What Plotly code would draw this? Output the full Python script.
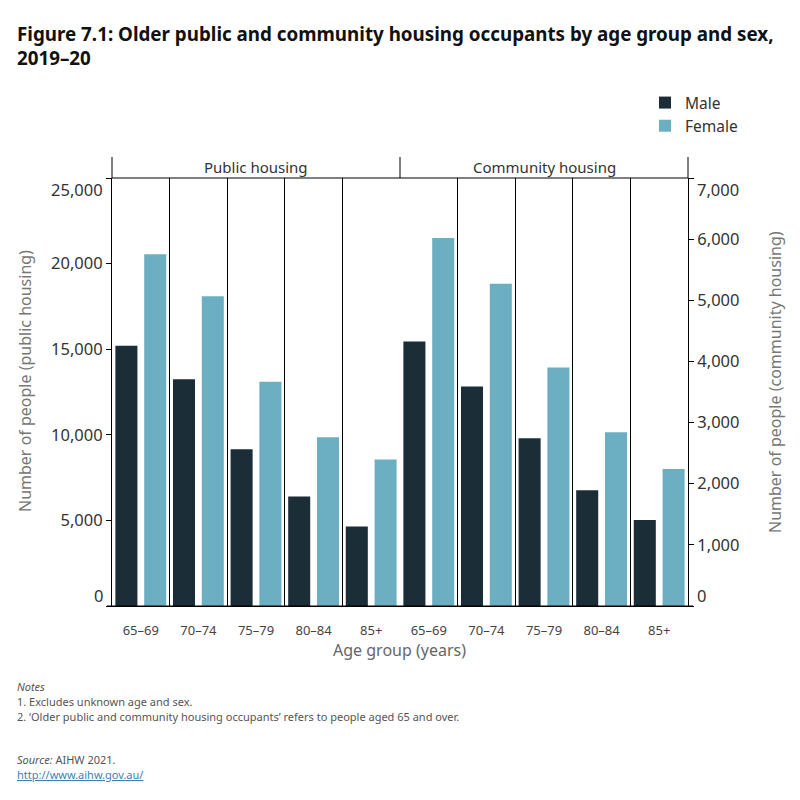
import plotly.graph_objects as go

# ---- data ----
age_groups = ["65–69", "70–74", "75–79", "80–84", "85+"]
public_male = [15200, 13250, 9150, 6400, 4650]
public_female = [20550, 18100, 13100, 9850, 8550]
community_male = [4325, 3590, 2745, 1895, 1405]
community_female = [6020, 5270, 3900, 2840, 2240]
series_names = ["Male", "Female"]
panel_names = ["Public housing", "Community housing"]
y_titles = ["Number of people (public housing)", "Number of people (community housing)"]
public_ticks = [0, 5000, 10000, 15000, 20000, 25000]
community_ticks = [0, 1000, 2000, 3000, 4000, 5000, 6000, 7000]

MALE_C = "#1b2e37"
FEMALE_C = "#6dafc2"
FONT = "Noto Sans"

# plot-area geometry in pixels (800x800 canvas)
L, R, T, B = 112, 688, 178, 606
W, H = R - L, B - T


def px(x):
    return (x - L) / W


def py(y):
    return (B - y) / H


def fmt(v):
    return f"{v:,}"


fig = go.Figure()
fig.add_trace(go.Bar(x=age_groups, y=public_male, name=series_names[0], marker_color=MALE_C,
                     xaxis="x", yaxis="y", legendgroup="m", offsetgroup="m"))
fig.add_trace(go.Bar(x=age_groups, y=public_female, name=series_names[1], marker_color=FEMALE_C,
                     xaxis="x", yaxis="y", legendgroup="f", offsetgroup="f"))
fig.add_trace(go.Bar(x=age_groups, y=community_male, name=series_names[0], marker_color=MALE_C,
                     xaxis="x2", yaxis="y2", legendgroup="m", offsetgroup="m", showlegend=False))
fig.add_trace(go.Bar(x=age_groups, y=community_female, name=series_names[1], marker_color=FEMALE_C,
                     xaxis="x2", yaxis="y2", legendgroup="f", offsetgroup="f", showlegend=False))
fig.update_traces(marker_line_width=0, hoverinfo="x+y+name")

xcommon = dict(type="category", tickson="boundaries", showgrid=True, gridcolor="black", gridwidth=1,
               ticks="", showline=True, linecolor="black", linewidth=1, zeroline=False,
               ticklabelstandoff=12,
               tickfont=dict(family=FONT, size=13, color="#444"), fixedrange=True)

TICKFONT = dict(family=FONT, size=16.5, color="#333")


def inner_text(ticks):
    # edge labels are drawn separately (nudged inward, as in the original)
    return [fmt(t) if 0 < i < len(ticks) - 1 else "" for i, t in enumerate(ticks)]


fig.update_layout(
    width=800, height=800,
    margin=dict(l=L, r=800 - R, t=T, b=800 - B),
    paper_bgcolor="white", plot_bgcolor="white",
    barmode="group", bargap=0.0, bargroupgap=0.235,
    font=dict(family=FONT, color="#333"),
    title=dict(text="<b>Figure 7.1: Older public and community housing occupants by age group and sex,<br>2019–20</b>",
               x=17 / 800, xanchor="left", xref="container", y=1 - 41 / 800, yanchor="top", yref="container",
               font=dict(family=FONT, size=18.8, color="#111")),
    xaxis=dict(domain=[0, 0.5], anchor="y", **xcommon),
    xaxis2=dict(domain=[0.5, 1], anchor="y2", **xcommon),
    yaxis=dict(range=[public_ticks[0], public_ticks[-1]], tickvals=public_ticks, ticktext=inner_text(public_ticks),
               side="left", anchor="x",
               showgrid=False, zeroline=False, showline=True, linecolor="black", linewidth=1,
               ticks="outside", ticklen=5, tickcolor="black", tickfont=TICKFONT),
    yaxis2=dict(range=[community_ticks[0], community_ticks[-1]], tickvals=community_ticks,
                ticktext=inner_text(community_ticks), side="right", anchor="x2",
                showgrid=False, zeroline=False, showline=True, linecolor="black", linewidth=1,
                ticks="outside", ticklen=5, tickcolor="black", tickfont=TICKFONT),
    legend=dict(x=px(645), xanchor="left", y=py(86), yanchor="top",
                font=dict(family=FONT, size=15.5, color="#333"), tracegroupgap=0,
                bgcolor="rgba(0,0,0,0)"),
    showlegend=True,
)

shapes = [
    dict(type="line", xref="paper", yref="paper", x0=0, x1=1, y0=1, y1=1, line=dict(color="black", width=1)),
    dict(type="line", xref="paper", yref="paper", x0=px(107), x1=px(693), y0=0, y1=0,
         line=dict(color="black", width=1)),
]
for xv in (0, 0.5, 1):
    shapes.append(dict(type="line", xref="paper", yref="paper", x0=xv, x1=xv, y0=1, y1=py(157),
                       line=dict(color="black", width=1)))
fig.update_layout(shapes=shapes)

ann = []
for i, name in enumerate(panel_names):
    ann.append(dict(text=name, x=0.25 + 0.5 * i, y=py(167), xref="paper", yref="paper",
                    showarrow=False, xanchor="center", yanchor="middle",
                    font=dict(family=FONT, size=15, color="#333")))
# edge tick labels nudged inward
for ticks, yref, xpos, anchor in ((public_ticks, "y", px(105), "right"), (community_ticks, "y2", px(695), "left")):
    ann.append(dict(text=fmt(ticks[-1]), x=xpos, y=ticks[-1], xref="paper", yref=yref, yshift=-11,
                    showarrow=False, xanchor=anchor, yanchor="middle", font=TICKFONT))
    ann.append(dict(text=fmt(ticks[0]), x=xpos, y=ticks[0], xref="paper", yref=yref, yshift=11,
                    showarrow=False, xanchor=anchor, yanchor="middle", font=TICKFONT))
ann.append(dict(text=y_titles[0], x=px(25), y=py(381), xref="paper", yref="paper", textangle=-90,
                showarrow=False, xanchor="center", yanchor="middle", font=dict(family=FONT, size=16, color="#777")))
ann.append(dict(text=y_titles[1], x=px(775), y=py(382), xref="paper", yref="paper", textangle=-90,
                showarrow=False, xanchor="center", yanchor="middle", font=dict(family=FONT, size=16, color="#777")))
ann.append(dict(text="Age group (years)", x=px(399), y=py(650), xref="paper", yref="paper",
                showarrow=False, xanchor="center", yanchor="middle", font=dict(family=FONT, size=16, color="#666")))
notes = [
    ("<i>Notes</i>", 686),
    ("1. Excludes unknown age and sex.", 701),
    ("2. ‘Older public and community housing occupants’ refers to people aged 65 and over.", 716),
    ("<i>Source:</i> AIHW 2021.", 759),
    ("<a href='http://www.aihw.gov.au/' style='color:#3f7fb0'><u>http://www.aihw.gov.au/</u></a>", 774),
]
for text, y in notes:
    ann.append(dict(text=text, x=px(15), y=py(y), xref="paper", yref="paper", showarrow=False,
                    xanchor="left", yanchor="middle", font=dict(family=FONT, size=11, color="#555")))
fig.update_layout(annotations=ann)

fig.write_html("out.html")
